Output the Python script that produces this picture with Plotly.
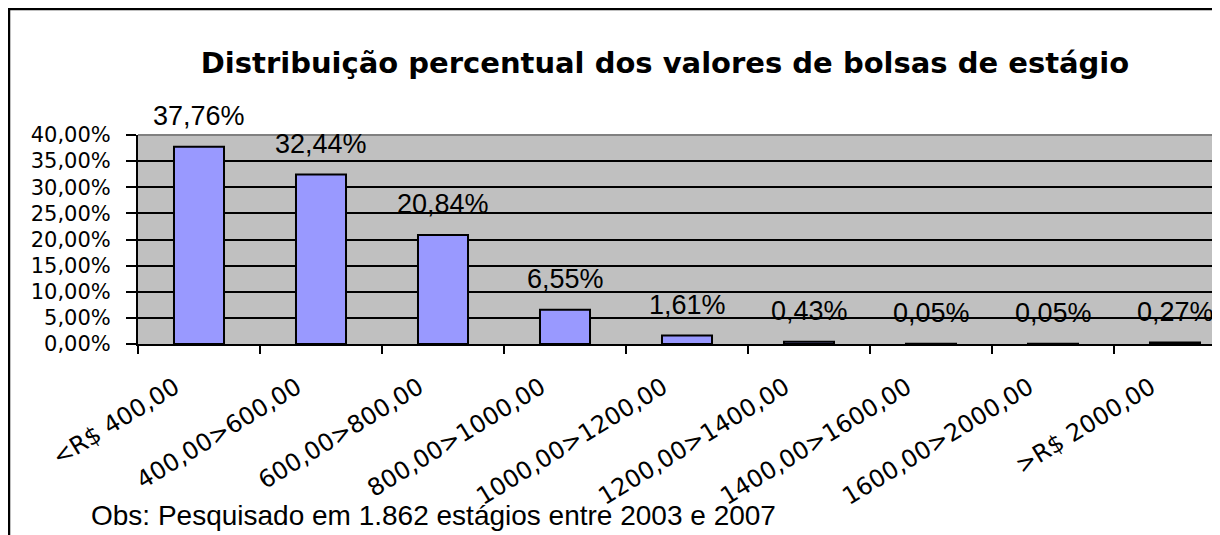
import plotly.graph_objects as go

categories = ["<R$ 400,00", "400,00>600,00", "600,00>800,00", "800,00>1000,00",
              "1000,00>1200,00", "1200,00>1400,00", "1400,00>1600,00",
              "1600,00>2000,00", ">R$ 2000,00"]
percent = [37.76, 32.44, 20.84, 6.55, 1.61, 0.43, 0.05, 0.05, 0.27]
y_ticks = [0, 5, 10, 15, 20, 25, 30, 35, 40]

title_text = "Distribuição percentual dos valores de bolsas de estágio"
note_text = "Obs: Pesquisado em 1.862 estágios entre 2003 e 2007"

# page body has an 8px margin, so the figure is 8px smaller and offset
OFF = 8
W, H = 1220 - OFF, 535 - OFF
L, R, T, B = 138 - OFF, 0, 135 - OFF, 191
plot_w = W - L - R
plot_h = H - T - B

def px_x(px):
    return (px - OFF - L) / plot_w

def px_y(py):
    return (H - B - (py - OFF)) / plot_h

def pct(v):
    return f"{v:.2f}".replace(".", ",") + "%"

FONT = "Liberation Sans"
WIDE = "DejaVu Sans"

fig = go.Figure()
fig.add_trace(go.Bar(
    x=categories, y=percent,
    width=0.41,
    marker=dict(color="#9999FF", line=dict(color="black", width=2)),
    hoverinfo="skip",
))

for c, v in zip(categories, percent):
    fig.add_annotation(
        x=c, y=v, xref="x", yref="y",
        text=pct(v),
        showarrow=False, yanchor="bottom", xanchor="center", yshift=14,
        font=dict(family=FONT, size=27, color="black"),
    )

fig.add_annotation(
    xref="paper", yref="paper", x=px_x(89), y=px_y(515),
    xanchor="left", yanchor="middle", showarrow=False,
    text=note_text, font=dict(family=FONT, size=28, color="black"),
)

# chart frame (extends beyond the visible page on right and bottom)
fig.add_shape(type="rect", xref="paper", yref="paper",
              x0=px_x(9), x1=px_x(1260), y0=px_y(560), y1=px_y(9),
              line=dict(color="black", width=2.5), fillcolor="rgba(0,0,0,0)",
              layer="below")
# top border of plot area
fig.add_shape(type="line", xref="paper", yref="paper",
              x0=0, x1=1, y0=1, y1=1,
              line=dict(color="#808080", width=2), layer="above")

fig.update_layout(
    width=W, height=H, autosize=False,
    margin=dict(l=L, r=R, t=T, b=B, pad=0),
    paper_bgcolor="white", plot_bgcolor="#C0C0C0",
    separators=",.",
    showlegend=False,
    title=dict(text=f"<b>{title_text}</b>", x=(665 - OFF) / W, xref="container", xanchor="center",
               y=1 - (63 - OFF) / H, yref="container", yanchor="middle",
               font=dict(family=WIDE, size=29, color="black")),
    font=dict(family=FONT, color="black"),
)
fig.update_xaxes(
    type="category", range=[-0.5, -0.5 + plot_w / 122],
    tickson="boundaries", ticks="outside", ticklen=8, tickwidth=2, tickcolor="black",
    showline=True, linecolor="black", linewidth=2,
    showgrid=False, tickangle=-31.6,
    tickfont=dict(family=WIDE, size=24, color="black"),
    ticklabelstandoff=18, ticklabelshift=-24,
)
fig.update_yaxes(
    range=[0, 40], tickmode="array", tickvals=y_ticks,
    ticktext=[pct(t) for t in y_ticks],
    ticks="outside", ticklen=10, tickwidth=2, tickcolor="black",
    showline=True, linecolor="black", linewidth=2,
    showgrid=True, gridcolor="black", gridwidth=2, zeroline=False,
    tickfont=dict(family=WIDE, size=21, color="black"),
    ticklabelstandoff=11,
)

fig.write_html("out.html")
